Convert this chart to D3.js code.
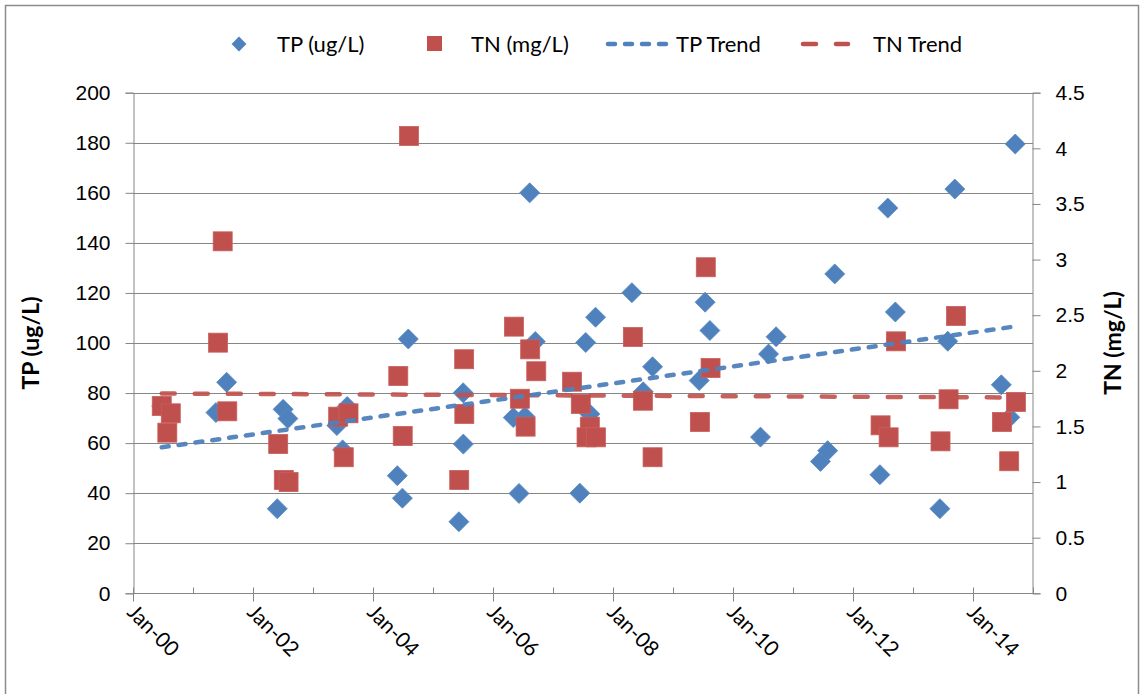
<!DOCTYPE html>
<html>
<head>
<meta charset="utf-8">
<script src="https://cdn.jsdelivr.net/npm/d3@7"></script>
<style>
  body { margin: 0; background: #fff; }
  svg { display: block; font-family: Lato, "Open Sans", sans-serif; }
</style>
</head>
<body>
<svg width="1144" height="694"></svg>
<script>
// TP samples (ug/L)
var tpDates = ["2000-06-24","2001-05-20","2001-07-24",
  "2002-05-28","2002-07-03","2002-08-01","2003-05-26","2003-06-30","2003-07-28",
  "2004-05-28","2004-06-28","2004-08-03","2005-06-07","2005-07-03","2005-07-04",
  "2006-05-04","2006-06-08","2006-07-14","2006-08-12","2006-09-15",
  "2007-06-13","2007-07-19","2007-08-13","2007-09-17","2008-04-25","2008-07-03","2008-08-29",
  "2009-06-09","2009-07-15","2009-08-13","2010-06-17","2010-08-05","2010-09-20",
  "2011-06-17","2011-07-31","2011-09-12","2012-06-13","2012-07-31","2012-09-15",
  "2013-06-13","2013-07-31","2013-09-12","2014-06-22","2014-08-13","2014-09-15"];
var tpValues = [74.8,72.2,84.3,
  33.8,73.5,69.8,67.0,57.3,74.6,
  47.0,38.0,101.6,28.6,80.1,59.6,
  70.2,39.9,70.6,160.0,100.6,
  40.0,100.2,71.6,110.3,120.1,80.5,90.5,
  85.0,116.3,105.0,62.4,95.6,102.5,
  52.7,57.0,127.6,47.4,153.9,112.4,
  33.8,100.7,161.5,83.3,70.3,179.5];

// TN samples (mg/L)
var tnDates = ["2000-06-24","2000-07-28","2000-08-18","2001-06-02","2001-06-30","2001-07-28",
  "2002-06-03","2002-07-07","2002-08-05","2003-06-03","2003-07-07","2003-08-05",
  "2004-06-03","2004-06-30","2004-08-07","2005-06-09","2005-07-09","2005-07-10",
  "2006-05-08","2006-06-13","2006-07-18","2006-08-15","2006-09-21",
  "2007-04-27","2007-06-19","2007-08-13","2007-07-24","2007-09-19",
  "2008-05-01","2008-07-01","2008-08-29","2009-06-13","2009-07-19","2009-08-17",
  "2012-06-17","2012-08-05","2012-09-19","2013-06-17","2013-08-05","2013-09-19",
  "2014-06-26","2014-08-09","2014-09-19"];
var tnValues = [1.684,1.444,1.618,2.253,3.164,1.636,
  1.342,1.019,1.0,1.588,1.223,1.618,
  1.953,1.414,4.111,1.019,2.104,1.612,
  2.397,1.749,1.498,2.193,1.996,
  1.902,1.702,1.498,1.402,1.402,
  2.304,1.731,1.223,1.54,2.931,2.025,
  1.51,1.402,2.265,1.366,1.744,2.493,
  1.54,1.187,1.72];

var leftTicks = [0,20,40,60,80,100,120,140,160,180,200];
var rightTicks = [0,0.5,1,1.5,2,2.5,3,3.5,4,4.5];

var blue = "#4F81BD", red = "#C0504D", axisCol = "#868686";
var parse = d3.timeParse("%Y-%m-%d");

var tp = tpDates.map(function(d, i){ return {date: parse(d), v: tpValues[i]}; });
var tn = tnDates.map(function(d, i){ return {date: parse(d), v: tnValues[i]}; });

var svg = d3.select("svg");

// chart border
svg.append("rect").attr("x", 5.5).attr("y", 5.5).attr("width", 1133).attr("height", 700)
  .attr("fill", "none").attr("stroke", "#8c8c8c").attr("stroke-width", 1.5);

var x = d3.scaleTime().domain([new Date(2000,0,1), new Date(2015,0,1)]).range([133, 1033]);
var yL = d3.scaleLinear().domain([0, 200]).range([593.3, 92.7]);
var yR = d3.scaleLinear().domain([0, 4.5]).range([593.3, 92.7]);

// gridlines
svg.append("g").selectAll("line").data(leftTicks.slice(1)).enter().append("line")
  .attr("x1", 133).attr("x2", 1033)
  .attr("y1", function(d){ return Math.round(yL(d)) + 0.5; })
  .attr("y2", function(d){ return Math.round(yL(d)) + 0.5; })
  .attr("stroke", axisCol).attr("stroke-width", 1);

// left axis
var gL = svg.append("g").attr("transform", "translate(133.5,0)")
  .call(d3.axisLeft(yL).tickValues(leftTicks).tickSize(8).tickPadding(15));
gL.selectAll("text").attr("font-size", 21).attr("fill", "#000");

// right axis
var gR = svg.append("g").attr("transform", "translate(1032.5,0)")
  .call(d3.axisRight(yR).tickValues(rightTicks).tickSize(8).tickPadding(15).tickFormat(d3.format("")));
gR.selectAll("text").attr("font-size", 21).attr("fill", "#000");

// bottom axis: majors every 2 years, minors yearly
var majors = d3.timeYear.every(2).range(new Date(2000,0,1), new Date(2015,0,1));
var minors = d3.timeYear.range(new Date(2000,0,1), new Date(2015,0,2));
var gX = svg.append("g").attr("transform", "translate(0,593.5)");
gX.append("line").attr("x1", 133).attr("x2", 1033).attr("stroke", axisCol);
gX.selectAll(".minor").data(minors).enter().append("line").attr("class", "minor")
  .attr("x1", function(d){ return Math.round(x(d)) + 0.5; })
  .attr("x2", function(d){ return Math.round(x(d)) + 0.5; })
  .attr("y1", -6).attr("y2", function(d){ return majors.some(function(m){ return +m === +d; }) ? 8 : 0; })
  .attr("stroke", axisCol);
var fmt = d3.timeFormat("%b-%y");
gX.selectAll(".lbl").data(majors).enter().append("text")
  .attr("transform", function(d){ return "translate(" + (x(d) - 7) + ",20) rotate(45)"; })
  .attr("font-size", 21).attr("fill", "#000")
  .text(fmt);

[gL, gR].forEach(function(g){
  g.select(".domain").attr("stroke", axisCol);
  g.selectAll(".tick line").attr("stroke", axisCol);
});

// axis titles
svg.append("text").attr("transform", "translate(39,343) rotate(-90)")
  .attr("text-anchor", "middle").attr("font-size", 23).attr("font-weight", "bold").text("TP (ug/L)");
svg.append("text").attr("transform", "translate(1121,343) rotate(-90)")
  .attr("text-anchor", "middle").attr("font-size", 23).attr("font-weight", "bold").text("TN (mg/L)");

// trend lines (least squares on time)
function trend(data){
  var xs = data.map(function(d){ return +d.date; }), ys = data.map(function(d){ return d.v; });
  var mx = d3.mean(xs), my = d3.mean(ys);
  var b = d3.sum(xs, function(v, i){ return (v - mx) * (ys[i] - my); }) / d3.sum(xs, function(v){ return (v - mx) * (v - mx); });
  var ext = d3.extent(xs);
  return ext.map(function(t){ return {date: new Date(t), v: my + b * (t - mx)}; });
}

var diamond = d3.symbol().type(d3.symbolSquare).size(200);

// TP points
svg.append("g").selectAll("path").data(tp).enter().append("path")
  .attr("d", diamond)
  .attr("transform", function(d){ return "translate(" + x(d.date) + "," + yL(d.v) + ") rotate(45)"; })
  .attr("fill", blue).attr("stroke", "#5a8ac4").attr("stroke-width", 0.8);

// TN points
svg.append("g").selectAll("rect").data(tn).enter().append("rect")
  .attr("x", function(d){ return x(d.date) - 9.5; })
  .attr("y", function(d){ return yR(d.v) - 9.5; })
  .attr("width", 19).attr("height", 19)
  .attr("fill", red).attr("stroke", "#c85f5c").attr("stroke-width", 0.8);

var lineL = d3.line().x(function(d){ return x(d.date); }).y(function(d){ return yL(d.v); });
var lineR = d3.line().x(function(d){ return x(d.date); }).y(function(d){ return yR(d.v); });

svg.append("path").datum(trend(tn)).attr("d", lineR)
  .attr("fill", "none").attr("stroke", red).attr("stroke-width", 4.5)
  .attr("stroke-dasharray", "13,20").attr("stroke-linecap", "round").attr("opacity", 0.9);
svg.append("path").datum(trend(tp)).attr("d", lineL)
  .attr("fill", "none").attr("stroke", blue).attr("stroke-width", 4.5)
  .attr("stroke-dasharray", "7,10").attr("stroke-linecap", "round").attr("opacity", 0.95);

// legend
var lg = svg.append("g").attr("font-size", 22).attr("fill", "#000");
lg.append("path").attr("d", d3.symbol().type(d3.symbolSquare).size(110))
  .attr("transform", "translate(239,44) rotate(45)").attr("fill", blue);
lg.append("text").attr("x", 277).attr("y", 52).text("TP (ug/L)");
lg.append("rect").attr("x", 427).attr("y", 36).attr("width", 15).attr("height", 15).attr("fill", red);
lg.append("text").attr("x", 471).attr("y", 52).text("TN (mg/L)");
lg.append("line").attr("x1", 608).attr("x2", 670).attr("y1", 44).attr("y2", 44)
  .attr("stroke", blue).attr("stroke-width", 4.5).attr("stroke-dasharray", "7,10").attr("stroke-linecap", "round");
lg.append("text").attr("x", 676).attr("y", 52).text("TP Trend");
lg.append("line").attr("x1", 803).attr("x2", 848).attr("y1", 44).attr("y2", 44)
  .attr("stroke", red).attr("stroke-width", 4.5).attr("stroke-dasharray", "13,20").attr("stroke-linecap", "round");
lg.append("text").attr("x", 873).attr("y", 52).text("TN Trend");
</script>
</body>
</html>
